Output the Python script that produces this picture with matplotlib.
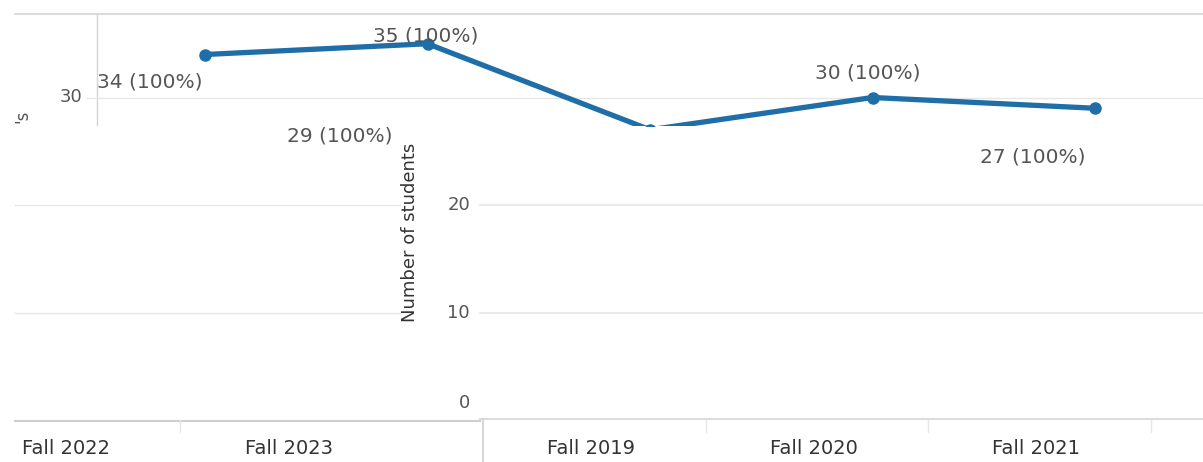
import numpy as np
import matplotlib.pyplot as plt
from matplotlib.patches import Rectangle

# values as drawn in the (glitched) top strip, left to right
line_vals = [34, 35, 27, 30, 29]
# data labels as they appear in the picture
label_vals = [34, 35, 29, 30, 27]
label_pct = ["100%", "100%", "100%", "100%", "100%"]
# category labels along the bottom axis
left_cats = ["Fall 2022", "Fall 2023"]
right_cats = ["Fall 2019", "Fall 2020", "Fall 2021"]
yticks_low = [0, 10, 20]

W, H = 1203, 462
BLUE = "#1f6ea8"
GREY = "#555555"
GRID = "#e6e6e6"


def px(x):
    return (x - 205) / 222.5


def py(y):
    return (420 - y) / 10.75


fig = plt.figure(figsize=(W / 100, H / 100), dpi=100)
ax = fig.add_axes([0, 0, 1, 1])
ax.set_xlim(px(0), px(W))
ax.set_ylim(py(H), py(0))
ax.axis("off")

# top strip frame
ax.plot([px(15), px(W)], [py(14), py(14)], color="#d4d4d4", lw=1.2)
ax.plot([px(97), px(97)], [py(14), py(125)], color="#d4d4d4", lw=1.0)
ax.plot([px(87), px(W)], [30, 30], color=GRID, lw=1.0)
ax.text(px(82), 30, "30", ha="right", va="center", fontsize=13, color=GREY)
ax.text(px(22), py(116), "'s", rotation=90, ha="center", va="center",
        fontsize=12, color=GREY)

# lower gridlines
for v in [10, 20]:
    ax.plot([px(15), px(400)], [v, v], color=GRID, lw=1.0)
    ax.plot([px(480), px(W)], [v, v], color=GRID, lw=1.2)
for v in yticks_low:
    ax.text(px(470), v + (1.6 if v == 0 else 0), str(v), ha="right", va="center",
            fontsize=13, color=GREY)
ax.text(px(410), py(232), "Number of students", rotation=90, ha="center",
        va="center", fontsize=13, color="#333333")

# bottom axis
ax.plot([px(15), px(480)], [py(421), py(421)], color="#cfcfcf", lw=1.5)
ax.plot([px(480), px(W)], [py(419), py(419)], color="#dcdcdc", lw=1.5)
ax.plot([px(483), px(483)], [py(419), py(H)], color="#cfcfcf", lw=1.2)
for t in [180, 706, 928, 1151]:
    ax.plot([px(t), px(t)], [py(420), py(432)], color="#e6e6e6", lw=1.0)
for i, c in enumerate(left_cats):
    ax.text(px(66 + 223 * i), py(448), c, ha="center", va="center",
            fontsize=14, color="#333333")
for i, c in enumerate(right_cats):
    ax.text(px(591 + 222.5 * i), py(448), c, ha="center", va="center",
            fontsize=14, color="#333333")

# the line, clipped to the top strip
xs = np.arange(len(line_vals))
ln, = ax.plot(xs, line_vals, color=BLUE, lw=3.8, marker="o", ms=8,
              solid_capstyle="round", zorder=3)
clip = Rectangle((px(0), py(126)), px(W) - px(0), py(0) - py(126),
                 transform=ax.transData, visible=False)
ax.add_patch(clip)
ln.set_clip_path(clip)

# data labels
label_pos = [(150, 82), (426, 36), (340, 136), (868, 73), (1033, 157)]
for (x, y), v, p in zip(label_pos, label_vals, label_pct):
    ax.text(px(x), py(y), f"{v} ({p})", ha="center", va="center",
            fontsize=14.5, color=GREY, zorder=4)

fig.savefig("out.png", dpi=100)
